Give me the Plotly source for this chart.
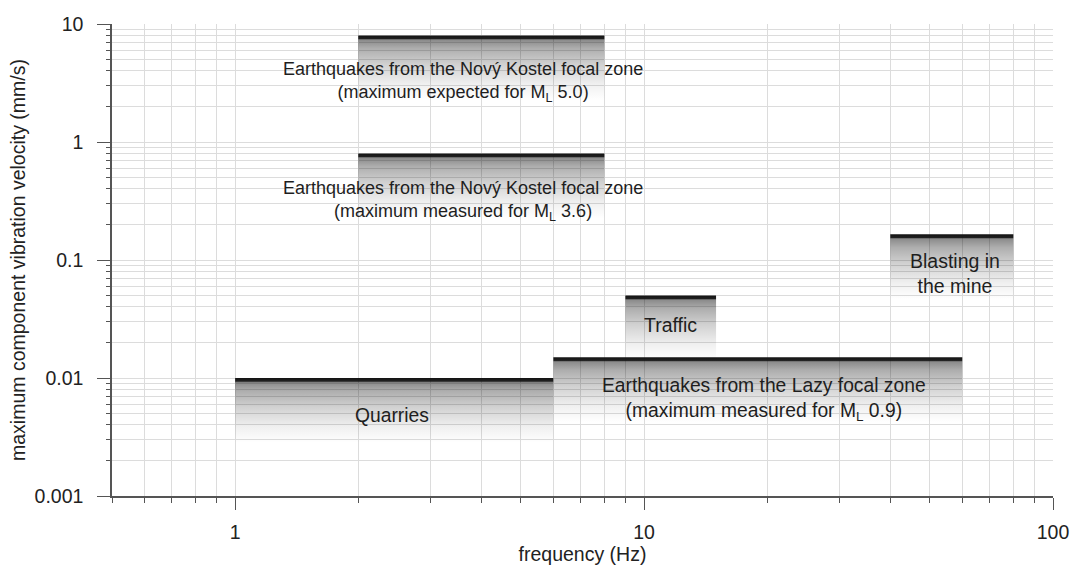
import numpy as np
import plotly.graph_objects as go

# Frequency bands (Hz) and peak vibration velocity (mm/s) of each source
sources = ["Nový Kostel ML 5.0", "Nový Kostel ML 3.6", "Traffic", "Blasting", "Lazy ML 0.9", "Quarries"]
f_low = [2, 2, 9, 40, 6, 1]
f_high = [8, 8, 15, 80, 60, 6]
v_max = [8, 0.8, 0.05, 0.165, 0.015, 0.01]

# Label texts and their anchor points (Hz, mm/s)
label_text = [
    "Earthquakes from the Nový Kostel focal zone<br>(maximum expected for M<sub>L</sub> 5.0)",
    "Earthquakes from the Nový Kostel focal zone<br>(maximum measured for M<sub>L</sub> 3.6)",
    "Traffic",
    "Blasting in<br>the mine",
    "Earthquakes from the Lazy focal zone<br>(maximum measured for M<sub>L</sub> 0.9)",
    "Quarries",
]
label_f = [3.6, 3.6, 11.6, 57.6, 19.7, 2.42]
label_v = [3.2, 0.315, 0.0281, 0.0765, 0.0066, 0.00485]
label_size = [18, 18, 19.5, 19.5, 19.3, 19.3]

x_ticks = [1, 10, 100]
x_ticktext = ["1", "10", "100"]
y_ticks = [0.001, 0.01, 0.1, 1, 10]
y_ticktext = ["0.001", "0.01", "0.1", "1", "10"]

FADE_DECADES = 0.55  # how far below the peak the shading fades out
FONT = "Arial, Liberation Sans, Helvetica, sans-serif"

# vertical shading: dark edge at the peak value, fading to transparent below
shade = [
    [0.00, "rgba(0,0,0,0)"],
    [0.25, "rgba(0,0,0,0.06)"],
    [0.55, "rgba(0,0,0,0.18)"],
    [0.80, "rgba(0,0,0,0.32)"],
    [0.925, "rgba(0,0,0,0.45)"],
    [0.94, "rgba(0,0,0,0.6)"],
    [0.95, "rgba(20,20,20,0.95)"],
    [1.00, "rgba(20,20,20,1)"],
]

fig = go.Figure()
for name, a, b, v in zip(sources, f_low, f_high, v_max):
    bottom = v / 10 ** FADE_DECADES
    fig.add_trace(go.Scatter(
        x=[a, b, b, a, a],
        y=[bottom, bottom, v, v, bottom],
        mode="lines",
        line=dict(width=0),
        fill="toself",
        fillgradient=dict(type="vertical", colorscale=shade),
        name=name,
        hoverinfo="skip",
        showlegend=False,
    ))

for t, fx, vy, sz in zip(label_text, label_f, label_v, label_size):
    fig.add_annotation(
        x=np.log10(fx), y=np.log10(vy), xref="x", yref="y",
        text=t, showarrow=False, align="center",
        font=dict(family=FONT, size=sz, color="#1e1e1e"),
    )

minor_x = [m * d for d in (0.1, 1, 10) for m in range(2, 10) if 0.5 <= m * d <= 100]
minor_y = [m * d for d in (0.001, 0.01, 0.1, 1) for m in range(2, 10)]

axis_col = "#555555"
grid_col = "#dcdcdc"
text_col = "#222222"

fig.update_xaxes(
    type="log", range=[np.log10(0.5), 2], automargin=False,
    tickmode="array", tickvals=x_ticks, ticktext=x_ticktext,
    ticks="outside", ticklen=12, tickwidth=1.3, tickcolor=axis_col,
    ticklabelstandoff=6,
    showline=True, linecolor=axis_col, linewidth=1.5,
    showgrid=True, gridcolor=grid_col, gridwidth=1,
    zeroline=False,
    minor=dict(tickmode="array", tickvals=minor_x, ticks="outside", ticklen=5,
               tickcolor=axis_col, showgrid=True, gridcolor=grid_col, gridwidth=1),
    tickfont=dict(family=FONT, size=19.5, color=text_col),
    title=dict(text="frequency (Hz)", font=dict(family=FONT, size=19.5, color=text_col), standoff=2),
)
fig.update_yaxes(
    type="log", range=[-3, 1], automargin=False,
    tickmode="array", tickvals=y_ticks, ticktext=y_ticktext,
    ticks="outside", ticklen=13, tickwidth=1.3, tickcolor=axis_col,
    ticklabelstandoff=10,
    showline=True, linecolor=axis_col, linewidth=1.5,
    showgrid=True, gridcolor=grid_col, gridwidth=1,
    zeroline=False,
    minor=dict(tickmode="array", tickvals=minor_y, ticks="outside", ticklen=4,
               tickcolor=axis_col, showgrid=True, gridcolor=grid_col, gridwidth=1),
    tickfont=dict(family=FONT, size=19.5, color=text_col),
    title=dict(text="maximum component vibration velocity (mm/s)",
               font=dict(family=FONT, size=19.5, color=text_col), standoff=4),
)

fig.update_layout(
    width=1073, height=565,
    margin=dict(l=112, r=20, t=24, b=69),
    plot_bgcolor="white", paper_bgcolor="white",
    showlegend=False,
)

fig.write_html("out.html")
